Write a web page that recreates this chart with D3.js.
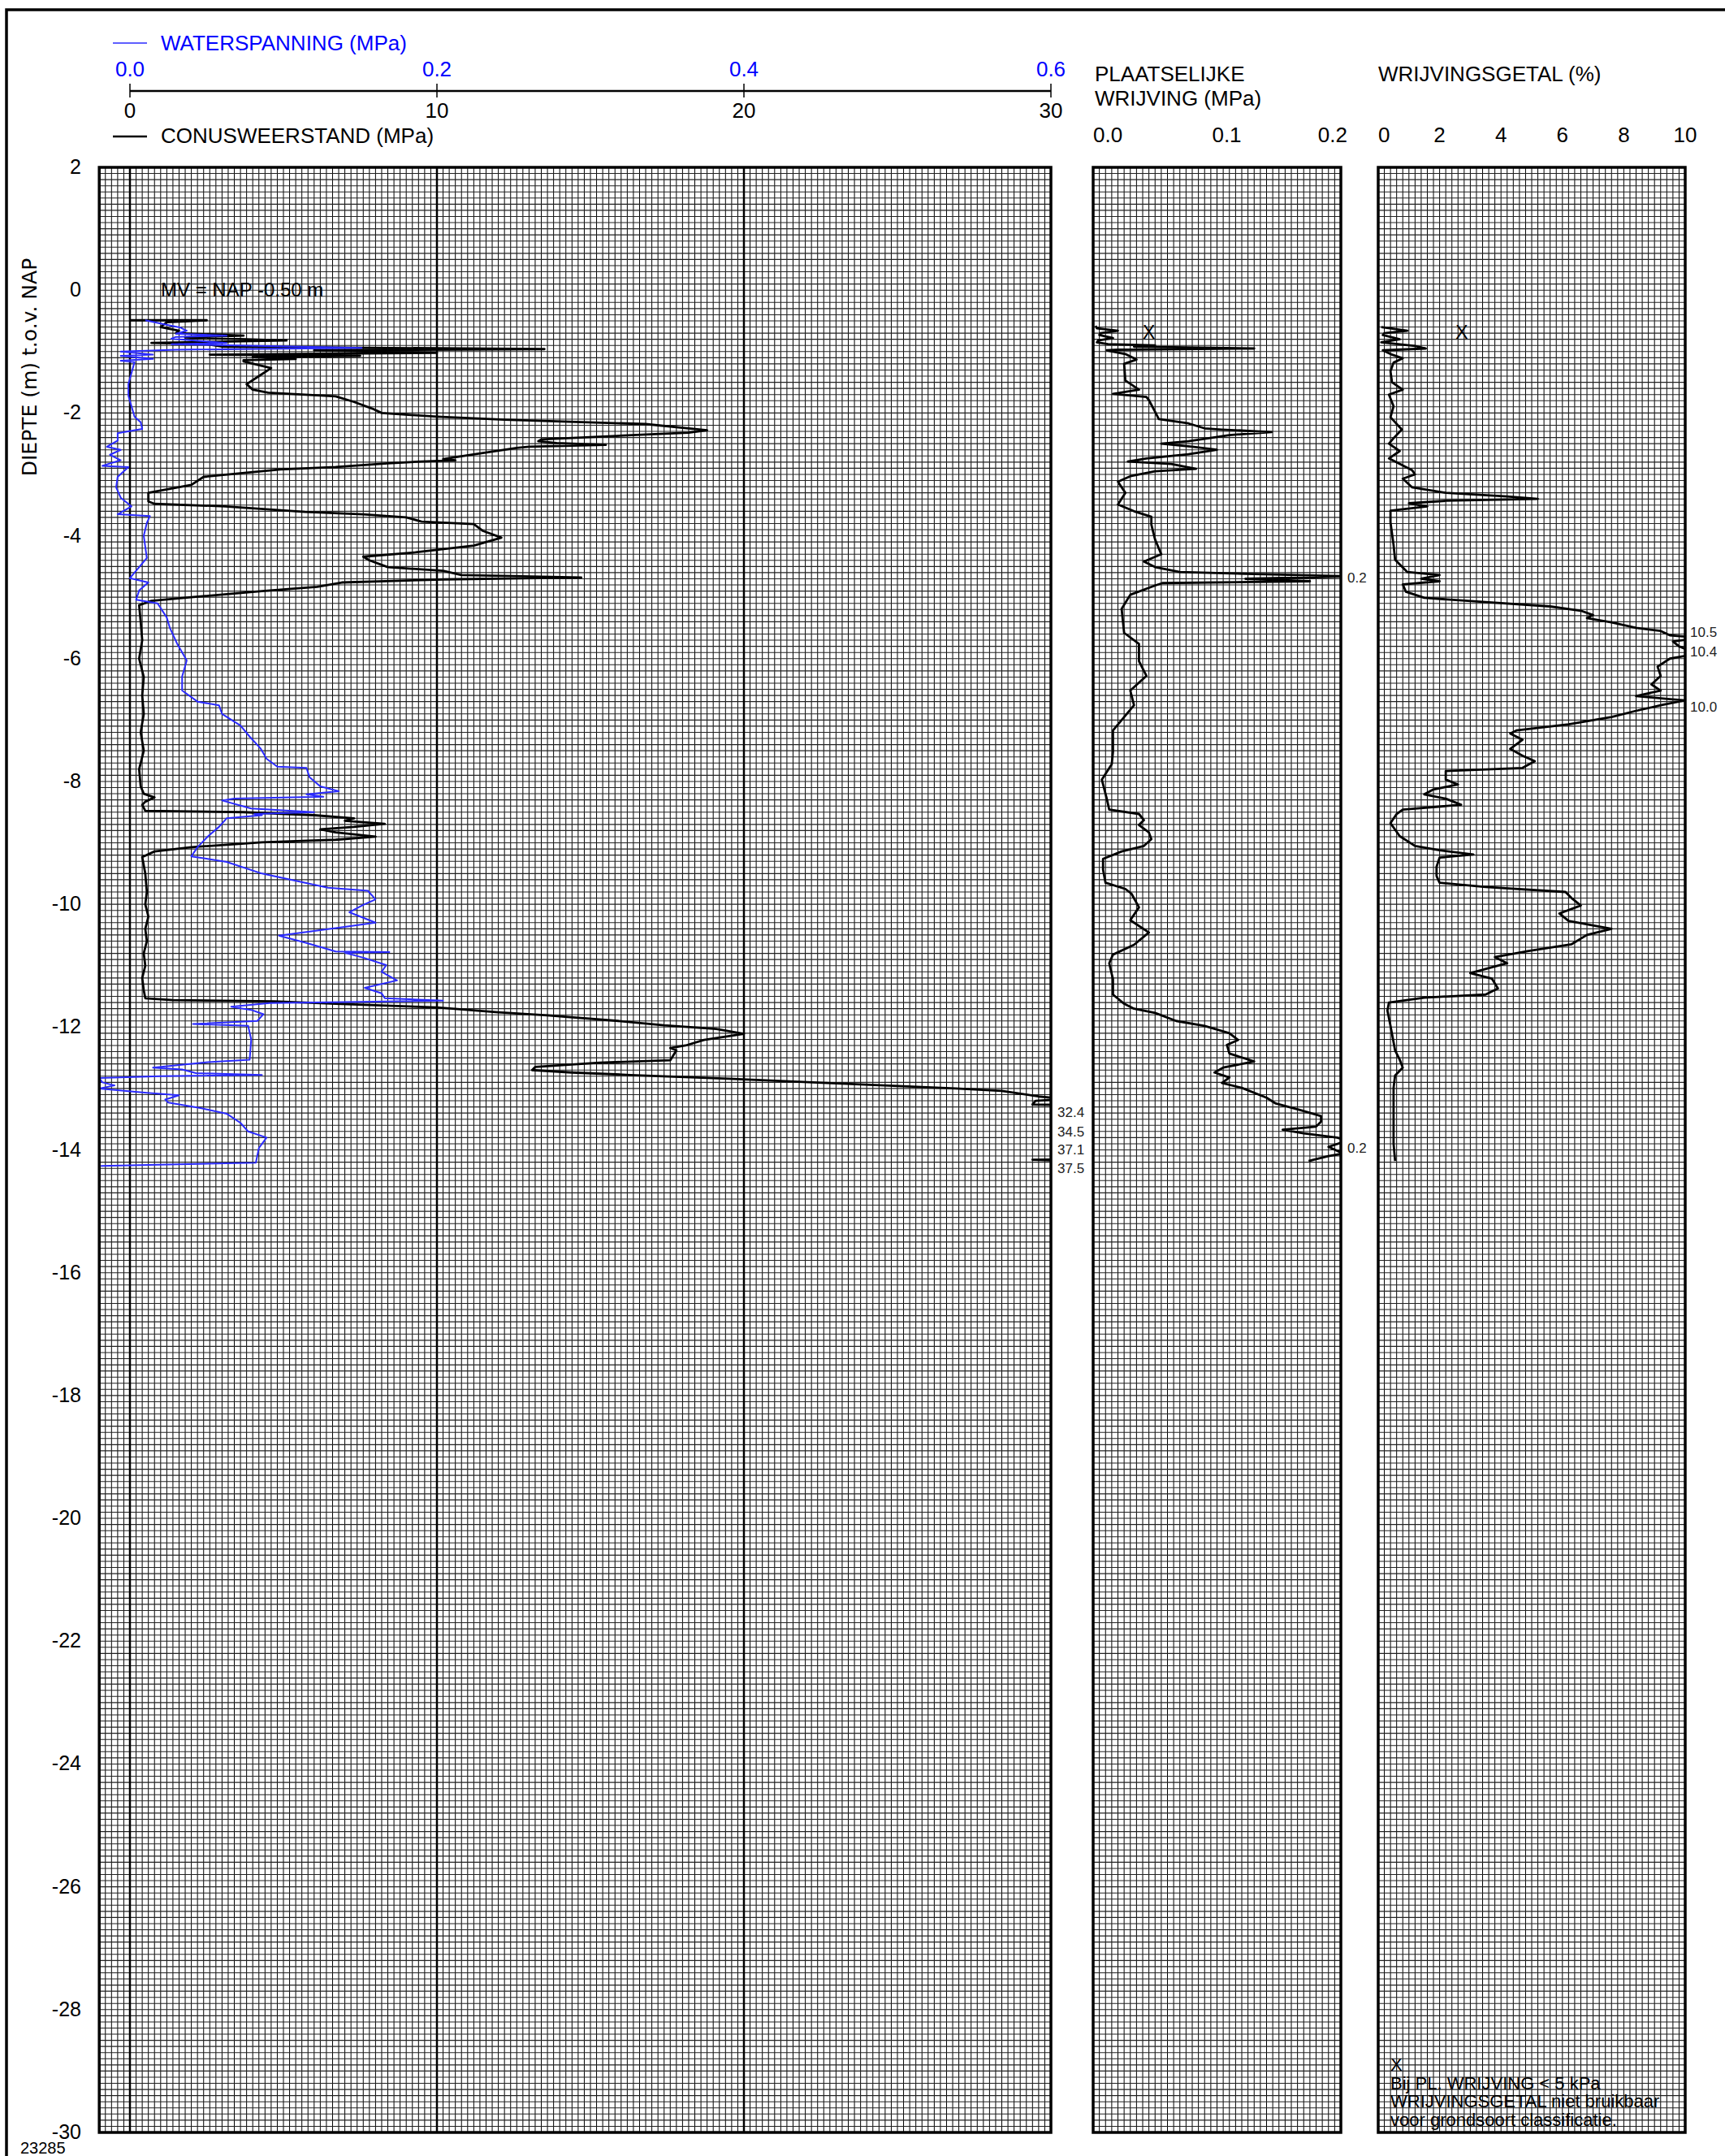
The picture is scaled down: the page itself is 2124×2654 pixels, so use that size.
<!DOCTYPE html>
<html>
<head>
<meta charset="utf-8">
<script src="https://cdn.jsdelivr.net/npm/d3@7"></script>
<style>
  body { margin: 0; background: #fff; }
  svg text { font-family: "Liberation Sans", Arial, sans-serif; }
</style>
</head>
<body>
<div class="sondering"></div>
<script>

// Conusweerstand qc (MPa) against depth (m NAP)
var qcData = [
  [-0.49, 0.0], [-0.49, 2.5], [-0.52, 1.2], [-0.6, 1.0], [-0.66, 1.6], [-0.70, 1.5], [-0.74, 3.7],
  [-0.77, 1.8], [-0.82, 5.1], [-0.86, 0.7], [-0.88, 2.5], [-0.92, 3.0], [-0.96, 13.5], [-0.98, 6.0],
  [-1.02, 10.0], [-1.05, 2.6], [-1.07, 7.5], [-1.09, 4.0], [-1.12, 5.4], [-1.14, 3.7], [-1.16, 3.7],
  [-1.27, 4.6], [-1.40, 4.2], [-1.53, 3.8], [-1.62, 4.0], [-1.67, 4.5], [-1.73, 6.7], [-1.82, 7.3],
  [-1.93, 7.9], [-2.00, 8.2], [-2.06, 10.0], [-2.11, 12.2], [-2.18, 16.8], [-2.28, 18.8], [-2.32, 18.2],
  [-2.35, 16.8], [-2.43, 13.4], [-2.46, 13.3], [-2.49, 13.9], [-2.52, 15.5], [-2.55, 13.0], [-2.57, 12.6],
  [-2.68, 11.1], [-2.75, 10.2], [-2.77, 10.6], [-2.79, 9.5], [-2.82, 8.4], [-2.88, 6.7], [-2.92, 4.9],
  [-3.04, 2.4], [-3.17, 2.0], [-3.30, 0.6], [-3.44, 0.6], [-3.48, 0.8], [-3.52, 3.1], [-3.61, 5.7],
  [-3.65, 7.6], [-3.70, 9.0], [-3.77, 9.5], [-3.81, 11.2], [-3.92, 11.5], [-4.03, 12.1], [-4.16, 11.2],
  [-4.27, 9.3], [-4.34, 7.6], [-4.40, 7.8], [-4.51, 8.4], [-4.57, 10.2], [-4.64, 10.8], [-4.68, 14.7],
  [-4.71, 10.2], [-4.76, 6.9], [-4.83, 6.1], [-4.90, 4.3], [-5.00, 2.0], [-5.06, 0.7], [-5.13, 0.3],
  [-5.4, 0.35], [-5.7, 0.4], [-6.0, 0.3], [-6.3, 0.45], [-6.6, 0.4], [-6.9, 0.45], [-7.2, 0.35],
  [-7.5, 0.45], [-7.8, 0.3], [-8.08, 0.35], [-8.2, 0.45], [-8.26, 0.8], [-8.33, 0.5], [-8.38, 0.4],
  [-8.48, 0.5], [-8.50, 3.7], [-8.55, 6.0], [-8.60, 7.3], [-8.64, 7.0], [-8.69, 8.3], [-8.74, 7.3],
  [-8.78, 6.2], [-8.83, 6.7], [-8.90, 8.0], [-8.95, 6.7], [-8.99, 4.3], [-9.07, 2.0], [-9.14, 0.8],
  [-9.23, 0.4], [-9.5, 0.5], [-9.8, 0.55], [-10.0, 0.5], [-10.2, 0.6], [-10.4, 0.5], [-10.6, 0.55],
  [-10.8, 0.45], [-11.0, 0.5], [-11.2, 0.4], [-11.4, 0.45], [-11.53, 0.5], [-11.56, 1.4], [-11.58, 4.7],
  [-11.62, 6.7], [-11.68, 10.0], [-11.76, 12.0], [-11.81, 13.6], [-11.90, 15.9], [-11.97, 17.4],
  [-12.03, 19.1], [-12.11, 20.0], [-12.21, 18.7], [-12.30, 18.1], [-12.34, 17.6], [-12.38, 17.8],
  [-12.54, 17.6], [-12.58, 15.3], [-12.65, 13.2], [-12.70, 13.1], [-12.74, 14.4], [-12.78, 16.3],
  [-12.84, 19.5], [-12.91, 22.7], [-13.00, 26.9], [-13.04, 28.4], [-13.13, 29.6], [-13.17, 30.5],
  [-13.20, 29.5], [-13.26, 29.4], [-13.29, 32.4], [-13.5, 34.5], [-13.8, 37.1], [-14.12, 37.5],
  [-14.16, 29.4], [-14.18, 30.5]
];

// Waterspanning u2 (MPa)
var uData = [
  [-0.49, 0.01], [-0.57, 0.025], [-0.61, 0.033], [-0.66, 0.037], [-0.71, 0.03], [-0.74, 0.063],
  [-0.76, 0.03], [-0.79, 0.027], [-0.86, 0.063], [-0.88, 0.027], [-0.94, 0.151], [-0.97, 0.03],
  [-1.00, -0.006], [-1.05, 0.015], [-1.07, -0.006], [-1.12, 0.015], [-1.15, -0.006], [-1.17, 0.003],
  [-1.53, -0.001], [-1.72, -0.001], [-2.06, 0.003], [-2.15, 0.007], [-2.26, 0.008], [-2.33, -0.008],
  [-2.45, -0.008], [-2.55, -0.015], [-2.60, -0.006], [-2.68, -0.013], [-2.77, -0.006], [-2.86, -0.018],
  [-2.88, -0.001], [-3.04, -0.008], [-3.21, -0.009], [-3.38, -0.006], [-3.52, 0.001], [-3.65, -0.008],
  [-3.68, 0.013], [-3.79, 0.011], [-4.00, 0.009], [-4.36, 0.011], [-4.69, 0.0], [-4.76, 0.012],
  [-4.89, 0.006], [-5.04, 0.004], [-5.10, 0.018], [-5.33, 0.024], [-5.50, 0.026], [-5.77, 0.031],
  [-6.03, 0.037], [-6.29, 0.034], [-6.52, 0.034], [-6.70, 0.044], [-6.76, 0.058], [-6.90, 0.060],
  [-7.09, 0.072], [-7.27, 0.078], [-7.46, 0.085], [-7.63, 0.089], [-7.76, 0.096], [-7.78, 0.115],
  [-7.93, 0.117], [-8.08, 0.124], [-8.16, 0.136], [-8.21, 0.115], [-8.25, 0.126], [-8.28, 0.068],
  [-8.31, 0.060], [-8.44, 0.079], [-8.50, 0.120], [-8.53, 0.081], [-8.55, 0.086], [-8.60, 0.063],
  [-8.74, 0.058], [-8.89, 0.051], [-9.07, 0.044], [-9.22, 0.040], [-9.31, 0.063], [-9.50, 0.086],
  [-9.73, 0.129], [-9.78, 0.155], [-9.92, 0.160], [-10.01, 0.152], [-10.13, 0.143], [-10.30, 0.160],
  [-10.39, 0.134], [-10.51, 0.097], [-10.63, 0.115], [-10.77, 0.134], [-10.78, 0.169], [-10.79, 0.140],
  [-10.87, 0.152], [-10.99, 0.167], [-11.10, 0.164], [-11.24, 0.174], [-11.36, 0.153], [-11.45, 0.164],
  [-11.53, 0.166], [-11.57, 0.204], [-11.59, 0.150], [-11.61, 0.091], [-11.67, 0.066], [-11.72, 0.079],
  [-11.79, 0.087], [-11.90, 0.083], [-11.95, 0.041], [-11.98, 0.077], [-12.20, 0.079], [-12.53, 0.078],
  [-12.57, 0.051], [-12.66, 0.015], [-12.69, 0.034], [-12.75, 0.043], [-12.78, 0.086], [-12.80, 0.02],
  [-12.83, -0.020], [-12.90, -0.018], [-12.95, -0.010], [-13.00, -0.020], [-13.07, 0.011],
  [-13.11, 0.032], [-13.18, 0.023], [-13.23, 0.025], [-13.32, 0.046], [-13.41, 0.063], [-13.56, 0.072],
  [-13.70, 0.077], [-13.80, 0.089], [-13.97, 0.084], [-14.21, 0.082], [-14.26, -0.019]
];

// Plaatselijke wrijving fs (MPa)
var fsData = [
  [-0.58, 0.002], [-0.62, 0.003], [-0.66, 0.020], [-0.70, 0.006], [-0.73, 0.005], [-0.78, 0.016],
  [-0.82, 0.004], [-0.85, 0.003], [-0.88, 0.012], [-0.90, 0.050], [-0.92, 0.033], [-0.95, 0.130],
  [-0.97, 0.02], [-0.98, 0.011], [-1.04, 0.026], [-1.13, 0.035], [-1.20, 0.025], [-1.47, 0.026],
  [-1.62, 0.037], [-1.69, 0.016], [-1.74, 0.043], [-1.79, 0.045], [-1.98, 0.050], [-2.10, 0.053],
  [-2.17, 0.077], [-2.25, 0.090], [-2.27, 0.104], [-2.31, 0.144], [-2.36, 0.110], [-2.46, 0.077],
  [-2.50, 0.055], [-2.55, 0.080], [-2.60, 0.100], [-2.67, 0.077], [-2.74, 0.043], [-2.79, 0.028],
  [-2.83, 0.063], [-2.91, 0.083], [-2.95, 0.050], [-3.03, 0.030], [-3.12, 0.020], [-3.30, 0.026],
  [-3.49, 0.020], [-3.60, 0.033], [-3.69, 0.047], [-3.82, 0.047], [-4.06, 0.050], [-4.30, 0.055],
  [-4.42, 0.041], [-4.51, 0.050], [-4.59, 0.070], [-4.62, 0.123], [-4.66, 0.21], [-4.70, 0.123],
  [-4.74, 0.175], [-4.77, 0.056], [-4.81, 0.050], [-4.96, 0.030], [-5.19, 0.023], [-5.58, 0.025],
  [-5.76, 0.037], [-6.04, 0.037], [-6.28, 0.043], [-6.52, 0.030], [-6.76, 0.033], [-7.00, 0.023],
  [-7.17, 0.016], [-7.52, 0.016], [-7.72, 0.015], [-7.97, 0.007], [-8.28, 0.011], [-8.46, 0.013],
  [-8.53, 0.037], [-8.63, 0.041], [-8.71, 0.037], [-8.83, 0.045], [-8.94, 0.047], [-9.05, 0.041],
  [-9.14, 0.023], [-9.26, 0.008], [-9.44, 0.008], [-9.65, 0.010], [-9.75, 0.026], [-9.83, 0.031],
  [-10.05, 0.037], [-10.26, 0.030], [-10.46, 0.045], [-10.66, 0.033], [-10.82, 0.016], [-10.96, 0.013],
  [-11.22, 0.016], [-11.47, 0.016], [-11.62, 0.025], [-11.70, 0.033], [-11.77, 0.050], [-11.90, 0.067],
  [-11.98, 0.090], [-12.10, 0.110], [-12.21, 0.117], [-12.29, 0.108], [-12.43, 0.110], [-12.56, 0.130],
  [-12.66, 0.105], [-12.74, 0.098], [-12.82, 0.110], [-12.91, 0.104], [-12.99, 0.120], [-13.15, 0.140],
  [-13.24, 0.147], [-13.35, 0.167], [-13.45, 0.184], [-13.54, 0.184], [-13.62, 0.180], [-13.67, 0.153],
  [-13.73, 0.170], [-13.80, 0.197], [-13.85, 0.205], [-13.95, 0.190], [-14.06, 0.202], [-14.10, 0.190],
  [-14.18, 0.174]
];

// Wrijvingsgetal Rf (%)
var rfData = [
  [-0.60, 0.1], [-0.66, 0.95], [-0.70, 0.2], [-0.73, 0.15], [-0.80, 0.7], [-0.85, 0.1], [-0.91, 1.2],
  [-0.95, 1.55], [-0.98, 0.15], [-1.04, 0.4], [-1.11, 0.8], [-1.18, 0.5], [-1.32, 0.4], [-1.5, 0.45],
  [-1.62, 0.8], [-1.70, 0.35], [-1.89, 0.5], [-2.07, 0.4], [-2.27, 0.77], [-2.41, 0.5], [-2.50, 0.35],
  [-2.62, 0.7], [-2.74, 0.35], [-2.83, 0.7], [-2.93, 1.1], [-3.00, 1.2], [-3.07, 0.8], [-3.21, 1.1],
  [-3.30, 2.2], [-3.36, 4.2], [-3.40, 5.2], [-3.43, 2.2], [-3.47, 1.0], [-3.52, 1.6], [-3.59, 0.4],
  [-3.78, 0.4], [-4.15, 0.5], [-4.39, 0.55], [-4.59, 0.95], [-4.64, 2.0], [-4.70, 1.4], [-4.74, 2.0],
  [-4.79, 0.8], [-4.91, 0.9], [-5.01, 1.5], [-5.08, 3.5], [-5.15, 5.6], [-5.22, 6.6], [-5.29, 7.0],
  [-5.34, 6.8], [-5.41, 7.6], [-5.50, 8.4], [-5.55, 9.2], [-5.62, 9.5], [-5.66, 10.5], [-5.72, 9.6],
  [-5.80, 9.8], [-5.92, 10.4], [-6.00, 9.5], [-6.13, 9.1], [-6.28, 9.2], [-6.42, 8.9], [-6.52, 9.2],
  [-6.61, 8.4], [-6.66, 9.5], [-6.68, 10.0], [-6.76, 9.2], [-6.85, 8.4], [-6.95, 7.6], [-7.07, 6.2],
  [-7.17, 4.5], [-7.22, 4.3], [-7.32, 4.7], [-7.47, 4.3], [-7.58, 4.7], [-7.67, 5.1], [-7.78, 4.7],
  [-7.83, 2.2], [-7.97, 2.2], [-8.05, 2.6], [-8.13, 1.8], [-8.21, 1.5], [-8.28, 2.2], [-8.38, 2.7],
  [-8.46, 0.8], [-8.53, 0.6], [-8.68, 0.4], [-8.89, 0.7], [-9.05, 1.2], [-9.12, 2.0], [-9.19, 3.1],
  [-9.24, 2.0], [-9.39, 1.9], [-9.54, 1.9], [-9.65, 2.0], [-9.72, 3.5], [-9.80, 6.1], [-9.90, 6.3],
  [-10.02, 6.6], [-10.15, 5.9], [-10.27, 6.2], [-10.40, 7.6], [-10.50, 6.8], [-10.65, 6.3],
  [-10.76, 4.9], [-10.86, 3.8], [-10.96, 4.2], [-11.12, 3.0], [-11.21, 3.7], [-11.37, 3.9],
  [-11.47, 3.5], [-11.52, 1.5], [-11.60, 0.35], [-11.73, 0.3], [-11.98, 0.4], [-12.38, 0.55],
  [-12.53, 0.7], [-12.66, 0.8], [-12.79, 0.55], [-12.99, 0.5], [-13.49, 0.5], [-13.90, 0.5],
  [-14.18, 0.55]
];

// Tick labels
var depthTicks = d3.range(2, -30.1, -2);
var qcTicks = [0, 10, 20, 30];
var uTicks = [0.0, 0.2, 0.4, 0.6];
var fsTicks = [0.0, 0.1, 0.2];
var rfTicks = [0, 2, 4, 6, 8, 10];

// Values that fall outside the scale
var qcMaxLabels = [[-13.38, "32.4"], [-13.70, "34.5"], [-13.99, "37.1"], [-14.30, "37.5"]];
var fsMaxLabels = [[-4.68, "0.2"], [-13.97, "0.2"]];
var rfMaxLabels = [[-5.57, "10.5"], [-5.88, "10.4"], [-6.79, "10.0"]];

var width = 2124,
    height = 2654;

var svg = d3.select(".sondering")
    .append("svg")
      .attr("width", width)
      .attr("height", height);

// Scales
var y = d3.scaleLinear().domain([2, -30]).range([206, 2625]);
var xQc = d3.scaleLinear().domain([0, 30]).range([160, 1294]);
var xU = d3.scaleLinear().domain([0, 0.6]).range([160, 1294]);
var xFs = d3.scaleLinear().domain([0, 0.2]).range([1346, 1651]);
var xRf = d3.scaleLinear().domain([0, 10]).range([1697, 2075]);

// Outer frame
svg.append("rect")
    .attr("x", 8).attr("y", 12)
    .attr("width", 2300).attr("height", 2800)
    .attr("fill", "none")
    .attr("stroke", "#000")
    .attr("stroke-width", 3.5);

// Draw one panel with its grid
function drawPanel(id, x, x0, x1, step) {
    var g = svg.append("g").attr("class", "panel-" + id);
    var left = x(x0), right = x(x1);

    g.selectAll(".vgrid")
        .data(d3.range(x0, x1 + step / 2, step))
        .enter().append("line")
          .attr("x1", function(d) { return x(d); })
          .attr("x2", function(d) { return x(d); })
          .attr("y1", y(2)).attr("y2", y(-30))
          .attr("stroke", "#000")
          .attr("stroke-width", 1);

    g.selectAll(".hgrid")
        .data(d3.range(0, 321))
        .enter().append("line")
          .attr("x1", left).attr("x2", right)
          .attr("y1", function(d) { return y(2 - d / 10); })
          .attr("y2", function(d) { return y(2 - d / 10); })
          .attr("stroke", "#222")
          .attr("stroke-width", 1.1);

    svg.append("clipPath").attr("id", "clip-" + id)
      .append("rect")
        .attr("x", left).attr("y", y(2))
        .attr("width", right - left).attr("height", y(-30) - y(2));

    return g;
}

drawPanel("qc", xQc, -1, 30, 0.2);
drawPanel("fs", xFs, 0, 0.2, 0.005);
drawPanel("rf", xRf, 0, 10, 0.2);

// Heavy lines in the main panel
svg.selectAll(".major")
    .data([0, 10, 20])
    .enter().append("line")
      .attr("x1", function(d) { return xQc(d); })
      .attr("x2", function(d) { return xQc(d); })
      .attr("y1", y(2)).attr("y2", y(-30))
      .attr("stroke", "#000")
      .attr("stroke-width", 2.5);

// Curves
var line = function(x) {
    return d3.line()
        .x(function(d) { return x(d[1]); })
        .y(function(d) { return y(d[0]); });
};

svg.append("path")
    .datum(qcData)
    .attr("clip-path", "url(#clip-qc)")
    .attr("d", line(xQc))
    .attr("fill", "none")
    .attr("stroke", "#000")
    .attr("stroke-width", 2.8)
    .attr("stroke-linejoin", "round");

svg.append("path")
    .datum(uData)
    .attr("clip-path", "url(#clip-qc)")
    .attr("d", line(xU))
    .attr("fill", "none")
    .attr("stroke", "#2a2aff")
    .attr("stroke-width", 2)
    .attr("stroke-linejoin", "round");

svg.append("path")
    .datum(fsData)
    .attr("clip-path", "url(#clip-fs)")
    .attr("d", line(xFs))
    .attr("fill", "none")
    .attr("stroke", "#000")
    .attr("stroke-width", 2.8)
    .attr("stroke-linejoin", "round");

svg.append("path")
    .datum(rfData)
    .attr("clip-path", "url(#clip-rf)")
    .attr("d", line(xRf))
    .attr("fill", "none")
    .attr("stroke", "#000")
    .attr("stroke-width", 2.8)
    .attr("stroke-linejoin", "round");

// Panel borders
[[xQc, -1, 30], [xFs, 0, 0.2], [xRf, 0, 10]].forEach(function(p) {
    svg.append("rect")
        .attr("x", p[0](p[1])).attr("y", y(2))
        .attr("width", p[0](p[2]) - p[0](p[1]))
        .attr("height", y(-30) - y(2))
        .attr("fill", "none")
        .attr("stroke", "#000")
        .attr("stroke-width", 3.5);
});

// Depth labels
svg.selectAll(".depth")
    .data(depthTicks)
    .enter().append("text")
      .attr("x", 100)
      .attr("y", function(d) { return y(d) + 8; })
      .attr("text-anchor", "end")
      .style("font-size", "25px")
      .text(function(d) { return d; });

svg.append("text")
    .attr("transform", "translate(45,452) rotate(-90)")
    .attr("text-anchor", "middle")
    .style("font-family", "'DejaVu Sans', sans-serif")
    .style("font-size", "25px")
    .text("DIEPTE (m) t.o.v. NAP");

// Top axis for qc and u
svg.append("line")
    .attr("x1", xQc(0)).attr("x2", xQc(30))
    .attr("y1", 112).attr("y2", 112)
    .attr("stroke", "#000").attr("stroke-width", 2.5);

svg.selectAll(".qtick")
    .data(qcTicks)
    .enter().append("line")
      .attr("x1", function(d) { return xQc(d); })
      .attr("x2", function(d) { return xQc(d); })
      .attr("y1", 103).attr("y2", 120)
      .attr("stroke", "#000").attr("stroke-width", 1.5);

svg.selectAll(".qlabel")
    .data(qcTicks)
    .enter().append("text")
      .attr("x", function(d) { return xQc(d); })
      .attr("y", 145)
      .attr("text-anchor", "middle")
      .style("font-size", "26px")
      .text(function(d) { return d; });

svg.selectAll(".ulabel")
    .data(uTicks)
    .enter().append("text")
      .attr("x", function(d) { return xU(d); })
      .attr("y", 94)
      .attr("text-anchor", "middle")
      .attr("fill", "#0000ff")
      .style("font-size", "26px")
      .text(function(d) { return d.toFixed(1); });

// Legend entries
svg.append("line")
    .attr("x1", 139).attr("x2", 181).attr("y1", 53).attr("y2", 53)
    .attr("stroke", "#2a2aff").attr("stroke-width", 1.5);
svg.append("text")
    .attr("x", 198).attr("y", 62)
    .attr("fill", "#0000ff")
    .style("font-size", "26px")
    .text("WATERSPANNING (MPa)");

svg.append("line")
    .attr("x1", 139).attr("x2", 181).attr("y1", 168).attr("y2", 168)
    .attr("stroke", "#000").attr("stroke-width", 2.5);
svg.append("text")
    .attr("x", 198).attr("y", 176)
    .style("font-size", "26px")
    .text("CONUSWEERSTAND (MPa)");

// Headings of the right panels
svg.append("text")
    .attr("x", 1348).attr("y", 100)
    .style("font-size", "26px")
    .text("PLAATSELIJKE");
svg.append("text")
    .attr("x", 1348).attr("y", 130)
    .style("font-size", "26px")
    .text("WRIJVING (MPa)");
svg.append("text")
    .attr("x", 1697).attr("y", 100)
    .style("font-size", "26px")
    .text("WRIJVINGSGETAL (%)");

svg.selectAll(".flabel")
    .data(fsTicks)
    .enter().append("text")
      .attr("x", function(d) { return xFs(d); })
      .attr("y", 175)
      .attr("text-anchor", function(d, i) { return ["start", "middle", "end"][i]; })
      .attr("dx", function(d, i) { return [0, 12, 8][i]; })
      .style("font-size", "26px")
      .text(function(d) { return d.toFixed(1); });

svg.selectAll(".rlabel")
    .data(rfTicks)
    .enter().append("text")
      .attr("x", function(d) { return xRf(d); })
      .attr("y", 175)
      .attr("text-anchor", function(d) { return d === 0 ? "start" : "middle"; })
      .style("font-size", "26px")
      .text(function(d) { return d; });

// Off-scale value labels
function maxLabels(data, xPos) {
    svg.selectAll(null)
        .data(data)
        .enter().append("text")
          .attr("x", xPos)
          .attr("y", function(d) { return y(d[0]) + 6; })
          .style("font-size", "17px")
          .attr("fill", "#222")
          .text(function(d) { return d[1]; });
}
maxLabels(qcMaxLabels, xQc(30) + 8);
maxLabels(fsMaxLabels, xFs(0.2) + 8);
maxLabels(rfMaxLabels, xRf(10) + 6);

// Annotations
svg.append("text")
    .attr("x", 198).attr("y", 365)
    .style("font-size", "24px")
    .text("MV = NAP -0.50 m");

svg.selectAll(".xmark")
    .data([xFs(0.045), xRf(2.72)])
    .enter().append("text")
      .attr("x", function(d) { return d; })
      .attr("y", y(-0.69) + 8)
      .attr("text-anchor", "middle")
      .style("font-size", "23px")
      .text("X");

var note = ["X", "Bij PL. WRIJVING < 5 kPa", "WRIJVINGSGETAL niet bruikbaar", "voor grondsoort classificatie."];
svg.selectAll(".note")
    .data(note)
    .enter().append("text")
      .attr("x", xRf(0) + 15)
      .attr("y", function(d, i) { return 2549 + i * 22.7; })
      .style("font-size", "22px")
      .text(function(d) { return d; });

svg.append("text")
    .attr("x", 25).attr("y", 2651)
    .style("font-size", "20px")
    .text("23285");

</script>
</body>
</html>
